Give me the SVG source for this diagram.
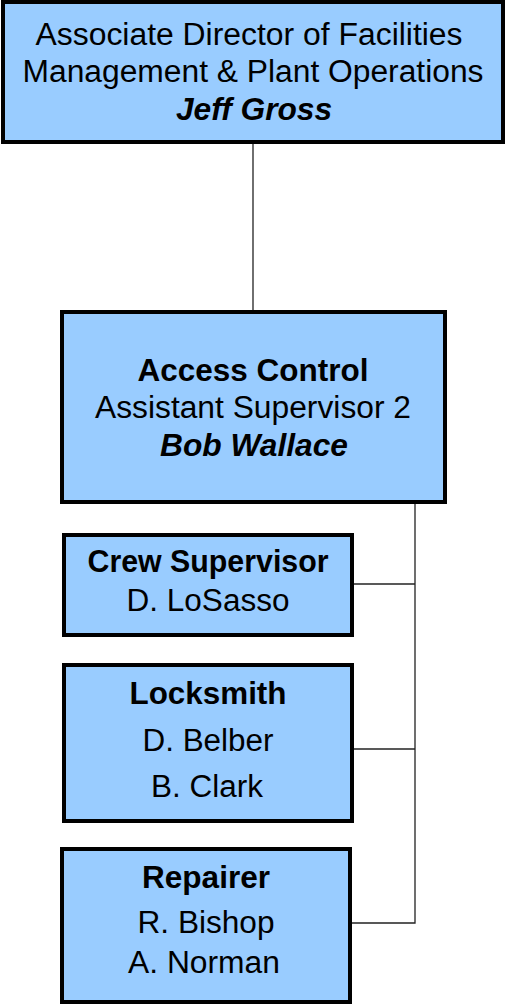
<svg xmlns="http://www.w3.org/2000/svg" width="507" height="1006" viewBox="0 0 507 1006">
<style>
.box{fill:#99CCFF;stroke:#000;stroke-width:4}
text{font-family:"Liberation Sans",Arial,sans-serif;font-size:31px;fill:#000;text-anchor:middle}
.b{font-weight:bold}
.bi{font-weight:bold;font-style:italic}
.conn{stroke:#222;stroke-width:1.3;fill:none}
</style>
<rect width="507" height="1006" fill="#fff"/>
<g id="connectors">
<line class="conn" x1="253" y1="144" x2="253" y2="310"/>
<polyline class="conn" points="415,504 415,923 352,923"/>
<line class="conn" x1="354" y1="584" x2="415" y2="584"/>
<line class="conn" x1="354" y1="749" x2="415" y2="749"/>
</g>
<g id="director">
<rect class="box" x="3" y="2" width="500" height="140"/>
<text x="249" y="45" textLength="427" lengthAdjust="spacingAndGlyphs">Associate Director of Facilities</text>
<text x="253" y="82" textLength="461" lengthAdjust="spacingAndGlyphs">Management &amp; Plant Operations</text>
<text class="bi" x="254" y="120" textLength="156" lengthAdjust="spacingAndGlyphs">Jeff Gross</text>
</g>
<g id="access-control">
<rect class="box" x="62" y="312" width="383" height="190"/>
<text class="b" x="253" y="381" textLength="231" lengthAdjust="spacingAndGlyphs">Access Control</text>
<text x="253" y="418" textLength="316" lengthAdjust="spacingAndGlyphs">Assistant Supervisor 2</text>
<text class="bi" x="254" y="456" textLength="188" lengthAdjust="spacingAndGlyphs">Bob Wallace</text>
</g>
<g id="crew-supervisor">
<rect class="box" x="64" y="535" width="288" height="100"/>
<text class="b" x="208" y="572" textLength="241" lengthAdjust="spacingAndGlyphs">Crew Supervisor</text>
<text x="208" y="611" textLength="163" lengthAdjust="spacingAndGlyphs">D. LoSasso</text>
</g>
<g id="locksmith">
<rect class="box" x="64" y="665" width="288" height="156"/>
<text class="b" x="208" y="704" textLength="157" lengthAdjust="spacingAndGlyphs">Locksmith</text>
<text x="208" y="751" textLength="131" lengthAdjust="spacingAndGlyphs">D. Belber</text>
<text x="207" y="797" textLength="112" lengthAdjust="spacingAndGlyphs">B. Clark</text>
</g>
<g id="repairer">
<rect class="box" x="62" y="849" width="288" height="153"/>
<text class="b" x="206" y="888" textLength="128" lengthAdjust="spacingAndGlyphs">Repairer</text>
<text x="206" y="933" textLength="137" lengthAdjust="spacingAndGlyphs">R. Bishop</text>
<text x="204" y="973" textLength="152" lengthAdjust="spacingAndGlyphs">A. Norman</text>
</g>
</svg>
